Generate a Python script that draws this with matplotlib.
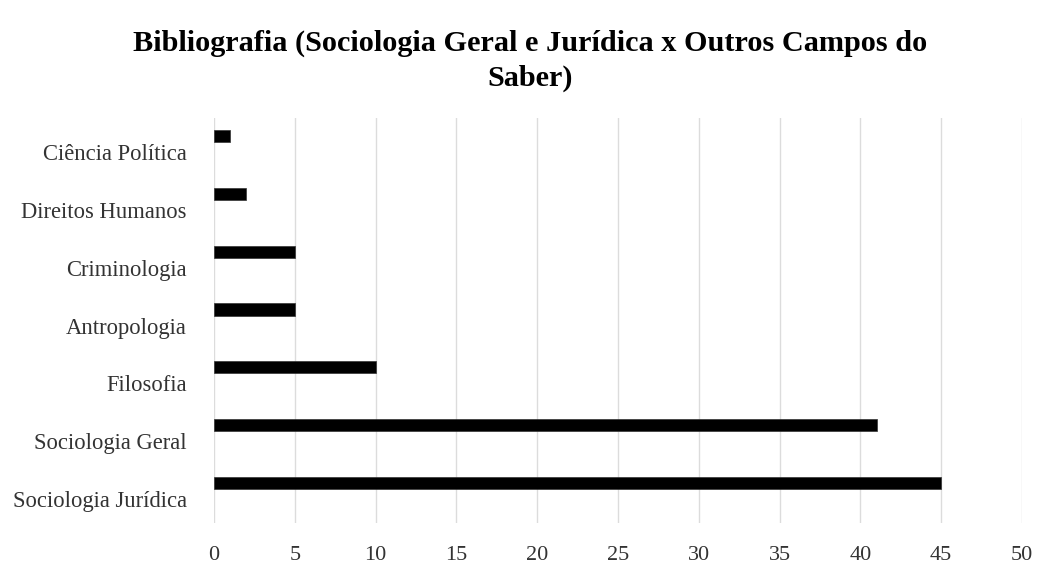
import matplotlib
matplotlib.use("Agg")
import matplotlib.pyplot as plt
import matplotlib.transforms as mtransforms
import numpy as np

# data, bottom category first (as drawn from the x axis upward)
categories = ["Sociologia Jurídica", "Sociologia Geral", "Filosofia",
              "Antropologia", "Criminologia", "Direitos Humanos", "Ciência Política"]
counts = [45, 41, 10, 5, 5, 2, 1]
xticks = [0, 5, 10, 15, 20, 25, 30, 35, 40, 45, 50]

plt.rcParams["font.family"] = ["Liberation Serif", "DejaVu Serif"]

fig = plt.figure(figsize=(10.6, 5.76), dpi=100)
ax = fig.add_axes([214 / 1060, 1 - 523 / 576, (1022 - 214) / 1060, 405 / 576])

y = np.arange(len(categories))
# bars sit in the upper part of each band (empty second series in the original)
ax.barh(y + 0.19, counts, height=0.21, color="black", edgecolor="#333333", linewidth=0.5, zorder=3)

ax.set_xlim(0, 50)
ax.set_ylim(-0.5, len(categories) - 0.5)
ax.set_xticks(xticks)
ax.set_xticklabels([str(t) for t in xticks], fontsize=16, color="#333333")
ax.set_yticks(y)
ax.set_yticklabels(categories, fontsize=16.3, color="#333333")
ax.tick_params(axis="both", length=0)
ax.tick_params(axis="x", pad=16.5)
ax.tick_params(axis="y", pad=19.5)
shift = mtransforms.ScaledTranslation(0, -5 / 100, fig.dpi_scale_trans)
for lab in ax.get_yticklabels():
    lab.set_transform(lab.get_transform() + shift)
ax.xaxis.grid(True, color="#dcdcdc", linewidth=1.0, zorder=0)
ax.yaxis.grid(False)
for s in ax.spines.values():
    s.set_visible(False)

fig.text(0.5, 1 - 43 / 576, "Bibliografia (Sociologia Geral e Jurídica x Outros Campos do",
         ha="center", va="center", fontsize=21.8, fontweight="bold")
fig.text(0.5, 1 - 78 / 576, "Saber)", ha="center", va="center", fontsize=21.8, fontweight="bold")

fig.savefig("out.png", dpi=100, facecolor="white")
